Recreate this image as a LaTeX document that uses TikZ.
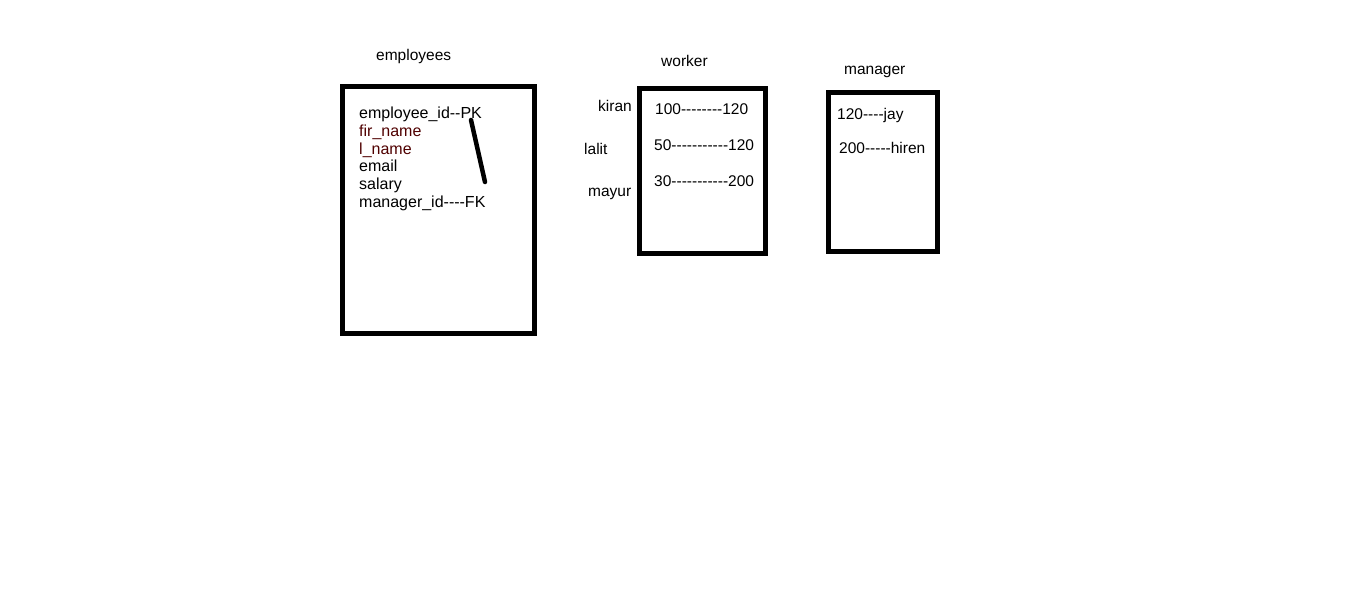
\documentclass[tikz,border=0pt]{standalone}
\usepackage{fontspec}
\setmainfont{Liberation Sans}[Ligatures=TeXOff]
\definecolor{darkred}{RGB}{80,0,0}
\begin{document}
\begin{tikzpicture}[x=1pt,y=-1pt,
  txt/.style={anchor=base west,inner sep=0pt,font=\fontsize{15.5}{18}\selectfont},
  etxt/.style={txt,font=\fontsize{16}{18}\selectfont},
  tablebox/.style={draw=black,line width=5pt},
  link/.style={line width=4.5pt,line cap=round}]
\fill[white] (0,0) rectangle (1360,608);
\useasboundingbox (0,0) rectangle (1360,608);
% boxes
\draw[tablebox] (342.5,86.5) rectangle (534,333.5);
\draw[tablebox] (639.5,88.5) rectangle (765,253);
\draw[tablebox] (828.5,92.5) rectangle (937.5,251);
% titles
\node[txt] (tEmp) at (376,60.5) {employees};
\node[txt] (tWork) at (661,66) {worker};
\node[txt] (tMan) at (844,74) {manager};
% employees columns
\node[etxt] (e1) at (359,118) {employee\_id--PK};
\node[etxt,text=darkred] (e2) at (359,136) {fir\_name};
\node[etxt,text=darkred] (e3) at (359,154) {l\_name};
\node[etxt] (e4) at (359,171.5) {email};
\node[etxt] (e5) at (359,189.5) {salary};
\node[etxt] (e6) at (359,207) {manager\_id----FK};
\coordinate (ls) at (471,120);
\coordinate (le) at (485,182);
\draw[link] (ls) -- (le);
% worker
\node[txt] (k) at (598,111) {kiran};
\node[txt] (l) at (584,154) {lalit};
\node[txt] (m) at (588,196.5) {mayur};
\node[txt] (w1) at (655,114.5) {100--------120};
\node[txt] (w2) at (654,150) {50-----------120};
\node[txt] (w3) at (654,186) {30-----------200};
% manager
\node[txt] (m1) at (837,119) {120----jay};
\node[txt] (m2) at (839,153) {200-----hiren};
\end{tikzpicture}
\end{document}
